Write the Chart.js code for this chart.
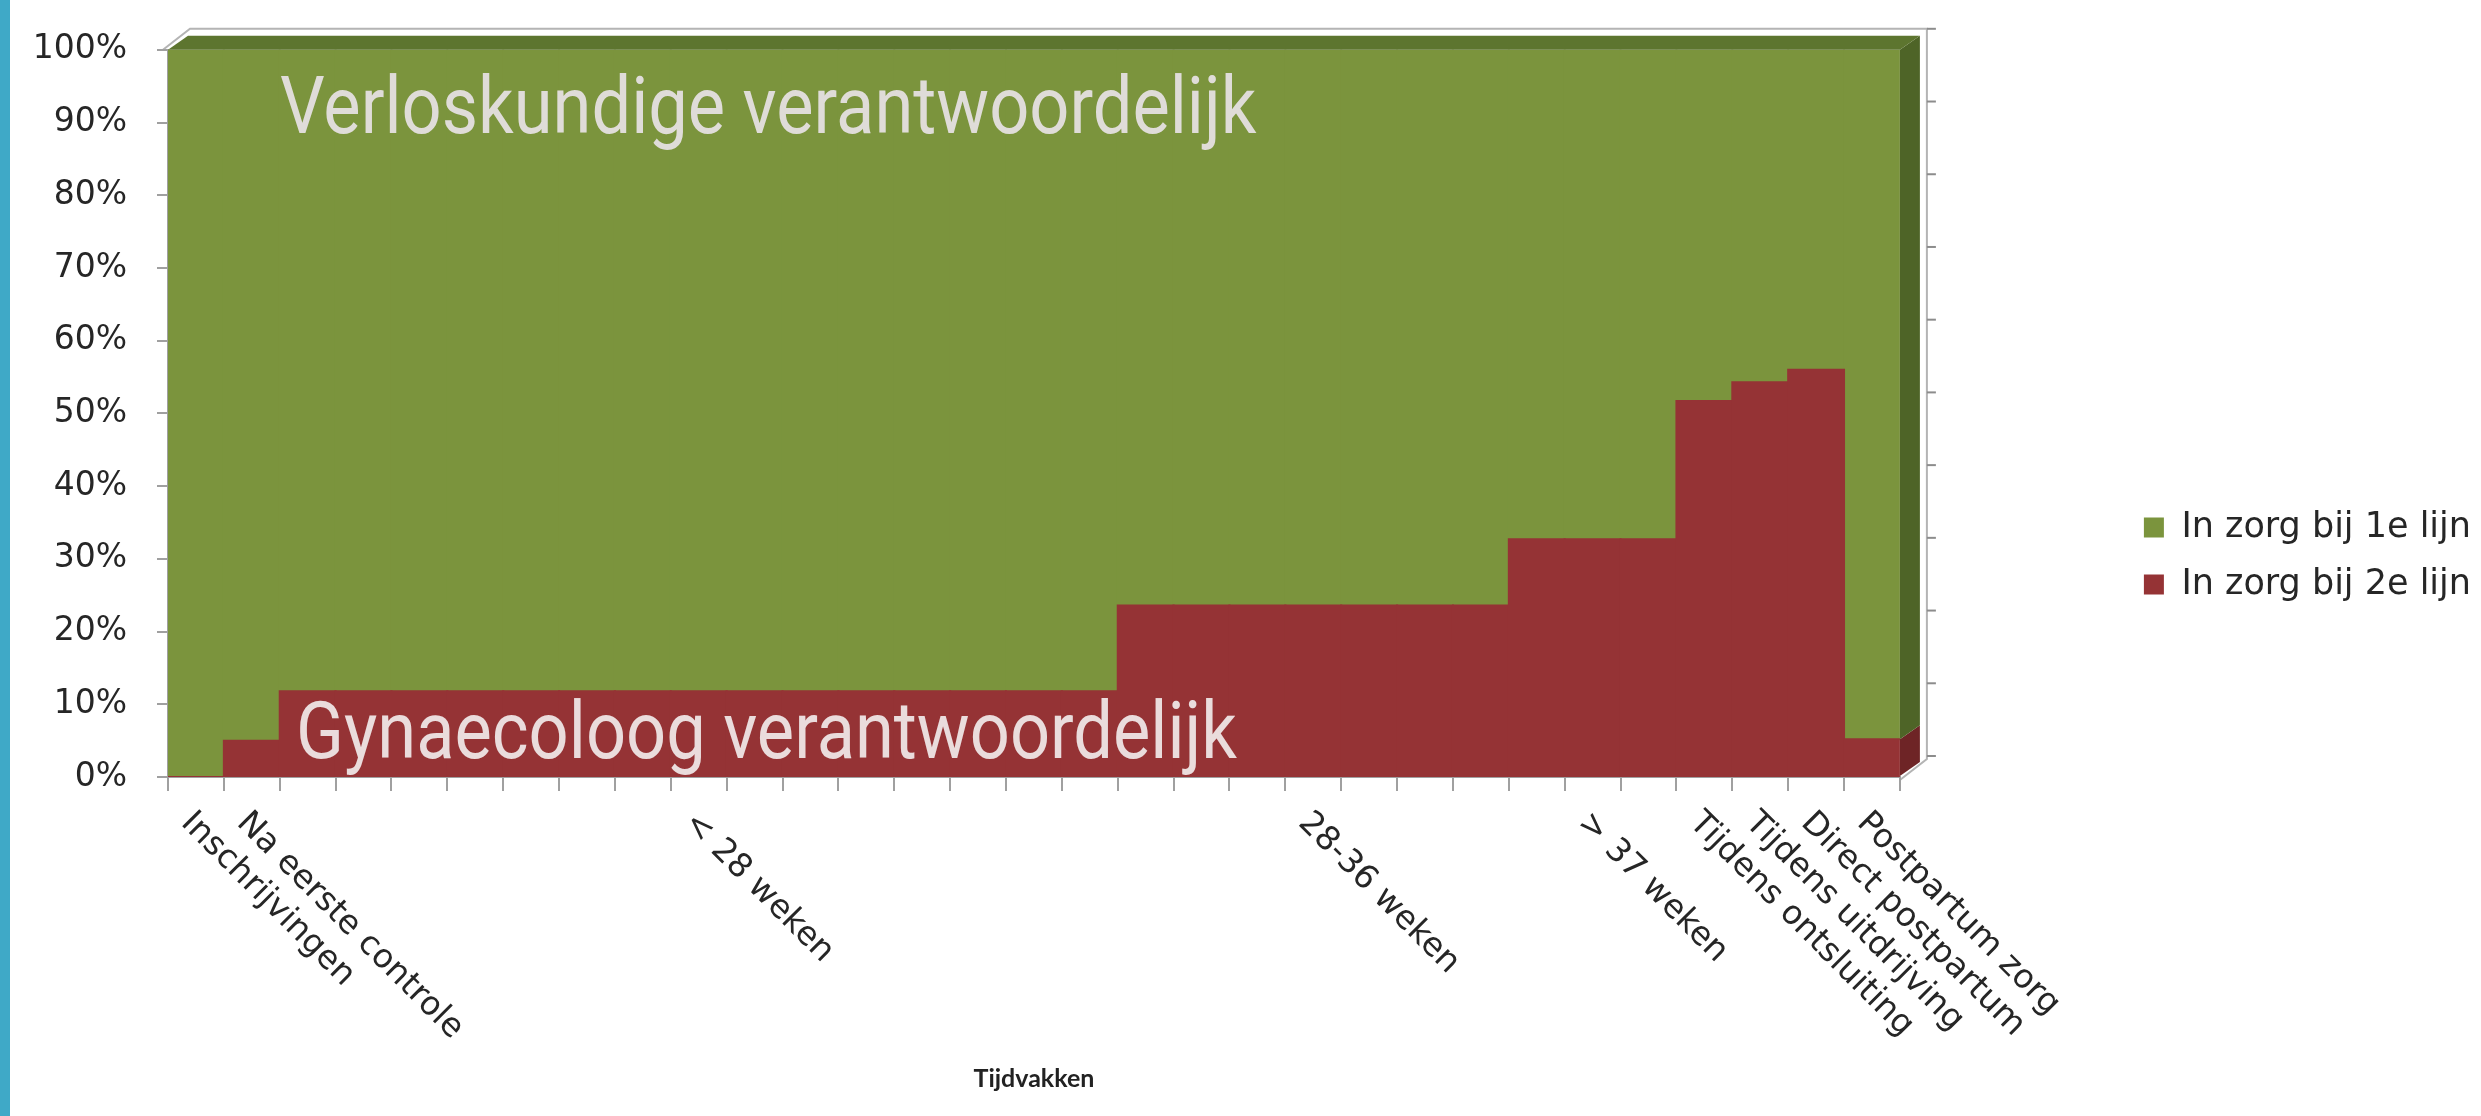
<!DOCTYPE html>
<html lang="nl">
<head>
<meta charset="utf-8">
<title>Tijdvakken</title>
<script src="https://cdn.jsdelivr.net/npm/chart.js@4.4.1/dist/chart.umd.min.js"></script>
<style>
  html, body { margin: 0; padding: 0; background: #fff; overflow: hidden; }
  #wrap { position: relative; width: 2481px; height: 1116px; }
</style>
</head>
<body>
<div id="wrap"><canvas id="grafiek"></canvas></div>
<script>
// Tijdvakken: 31 kolommen, alleen de middelste van elke periode krijgt een label
const categories = [
    'Inschrijvingen', 'Na eerste controle',
    '', '', '', '', '', '', '',
    '< 28 weken',
    '', '', '', '', '', '', '', '', '', '',
    '28-36 weken',
    '', '', '', '',
    '> 37 weken',
    '',
    'Tijdens ontsluiting', 'Tijdens uitdrijving', 'Direct postpartum', 'Postpartum zorg'
];

// Percentages per kolom
const lijn2 = [
    0, 5,
    11.8, 11.8, 11.8, 11.8, 11.8, 11.8, 11.8, 11.8, 11.8, 11.8, 11.8, 11.8, 11.8, 11.8, 11.8,
    23.6, 23.6, 23.6, 23.6, 23.6, 23.6, 23.6,
    32.7, 32.7, 32.7,
    51.7, 54.3, 56, 5.2
];
const lijn1 = [
    100, 95,
    88.2, 88.2, 88.2, 88.2, 88.2, 88.2, 88.2, 88.2, 88.2, 88.2, 88.2, 88.2, 88.2, 88.2, 88.2,
    76.4, 76.4, 76.4, 76.4, 76.4, 76.4, 76.4,
    67.3, 67.3, 67.3,
    48.3, 45.7, 44, 94.8
];

const seriesNames = ['In zorg bij 2e lijn', 'In zorg bij 1e lijn'];
const yTicks = [0, 10, 20, 30, 40, 50, 60, 70, 80, 90, 100];

const groen = '#7b943d';
const rood = '#953335';
const zijkant = ['#6e2426', '#4e6427'];   // rechterzijvlak rood / groen
const bovenkant = '#5d752f';
const depth = { dx: 20, dy: -14 };      // diepte van de kolommen
const wall = { dx: 27, dy: -21 };       // diepte van de achterwand

// 3D-randen, achterwand, teksten in de grafiek en schuine labels
const decor = {
    id: 'decor',
    beforeDraw(chart) {
        const ctx = chart.ctx;
        const { left, right, top, bottom } = chart.chartArea;
        const ys = chart.scales.y;
        ctx.save();
        ctx.fillStyle = '#ffffff';
        ctx.fillRect(0, 0, chart.width, chart.height);
        ctx.fillStyle = '#3fa9c7';
        ctx.fillRect(0, 0, 10, chart.height);

        ctx.strokeStyle = '#b4b4b4';
        ctx.lineWidth = 2;
        ctx.beginPath();
        ctx.moveTo(left - 5, top);
        ctx.lineTo(left - 5 + wall.dx, top + wall.dy);
        ctx.lineTo(right + wall.dx, top + wall.dy);
        ctx.lineTo(right + wall.dx, bottom + 3 + wall.dy);
        ctx.lineTo(right, bottom + 3);
        ctx.stroke();

        ctx.strokeStyle = '#8c8c8c';
        yTicks.forEach(v => {
            const py = ys.getPixelForValue(v) + wall.dy;
            ctx.beginPath();
            ctx.moveTo(right + wall.dx, py);
            ctx.lineTo(right + wall.dx + 9, py);
            ctx.stroke();
        });
        ctx.restore();
    },
    afterDatasetsDraw(chart) {
        const ctx = chart.ctx;
        const { left, right } = chart.chartArea;
        const ys = chart.scales.y;
        const last = categories.length - 1;
        ctx.save();

        // zijvlak van de laatste kolom
        chart.data.datasets.forEach((ds, i) => {
            const bar = chart.getDatasetMeta(i).data[last];
            const y1 = Math.min(bar.y, bar.base);
            const y2 = Math.max(bar.y, bar.base);
            ctx.fillStyle = zijkant[i];
            ctx.beginPath();
            ctx.moveTo(right, y1);
            ctx.lineTo(right + depth.dx, y1 + depth.dy);
            ctx.lineTo(right + depth.dx, y2 + depth.dy);
            ctx.lineTo(right, y2);
            ctx.closePath();
            ctx.fill();
        });

        // bovenvlak
        const yt = ys.getPixelForValue(100);
        ctx.fillStyle = bovenkant;
        ctx.beginPath();
        ctx.moveTo(left, yt);
        ctx.lineTo(left + depth.dx, yt + depth.dy);
        ctx.lineTo(right + depth.dx, yt + depth.dy);
        ctx.lineTo(right, yt);
        ctx.closePath();
        ctx.fill();

        // teksten in de vlakken
        ctx.font = '80px Roboto';
        ctx.textAlign = 'left';
        ctx.textBaseline = 'alphabetic';
        ctx.fillStyle = '#dfdcd8';
        ctx.save();
        ctx.translate(left + 112, ys.getPixelForValue(88.5));
        ctx.scale(0.88, 1);
        ctx.fillText('Verloskundige verantwoordelijk', 0, 0);
        ctx.restore();
        ctx.fillStyle = '#eadcdc';
        ctx.save();
        ctx.translate(left + 128, ys.getPixelForValue(2.6));
        ctx.scale(0.88, 1);
        ctx.fillText('Gynaecoloog verantwoordelijk', 0, 0);
        ctx.restore();
        ctx.restore();
    },
    afterDraw(chart) {
        const ctx = chart.ctx;
        const xs = chart.scales.x;
        ctx.save();
        ctx.font = '33px "DejaVu Sans"';
        ctx.fillStyle = '#262626';
        ctx.textAlign = 'left';
        ctx.textBaseline = 'alphabetic';
        categories.forEach((label, i) => {
            if (!label) return;
            ctx.save();
            ctx.translate(xs.getPixelForValue(i) - 16, chart.chartArea.bottom + 47);
            ctx.rotate(Math.PI / 4);
            ctx.fillText(label, 0, 0);
            ctx.restore();
        });
        ctx.restore();
    }
};

const ctx = document.getElementById('grafiek').getContext('2d');

const chart = new Chart(ctx, {
    type: 'bar',
    data: {
        labels: categories,
        datasets: [{
            label: seriesNames[0],
            data: lijn2,
            backgroundColor: rood
        }, {
            label: seriesNames[1],
            data: lijn1,
            backgroundColor: groen
        }]
    },
    options: {
        responsive: true,
        maintainAspectRatio: false,
        devicePixelRatio: 1,
        animation: false,
        barPercentage: 1,
        categoryPercentage: 1,
        borderWidth: 0,
        inflateAmount: 1,
        layout: {
            padding: { top: 42, bottom: 46, left: 0, right: 0 }
        },
        scales: {
            x: {
                stacked: true,
                ticks: { display: false },
                grid: {
                    drawOnChartArea: false,
                    tickLength: 14,
                    color: '#a0a0a0',
                    lineWidth: 2
                },
                border: { color: '#a0a0a0', width: 2 },
                title: {
                    display: true,
                    text: 'Tijdvakken',
                    color: '#222222',
                    font: { family: 'Lato', weight: 'bold', size: 25 },
                    padding: { top: 273, bottom: -24 }
                }
            },
            y: {
                stacked: true,
                min: 0,
                max: 100,
                ticks: {
                    stepSize: 10,
                    padding: 30,
                    color: '#262626',
                    font: { family: 'DejaVu Sans', size: 33 },
                    callback: v => v + '%'
                },
                grid: {
                    drawOnChartArea: false,
                    tickLength: 11,
                    color: '#a0a0a0',
                    lineWidth: 2
                },
                border: { color: '#a0a0a0', width: 2 },
                afterFit: s => { s.width = 168; }
            },
            y2: {
                type: 'linear',
                position: 'right',
                min: 0,
                max: 100,
                ticks: { display: false },
                grid: { display: false },
                border: { display: false },
                afterFit: s => { s.width = 222; }
            }
        },
        plugins: {
            legend: {
                position: 'right',
                reverse: true,
                labels: {
                    boxWidth: 20,
                    boxHeight: 20,
                    padding: 22,
                    color: '#262626',
                    font: { family: 'DejaVu Sans', size: 35 }
                }
            },
            tooltip: { enabled: false }
        }
    },
    plugins: [decor]
});
</script>
</body>
</html>
